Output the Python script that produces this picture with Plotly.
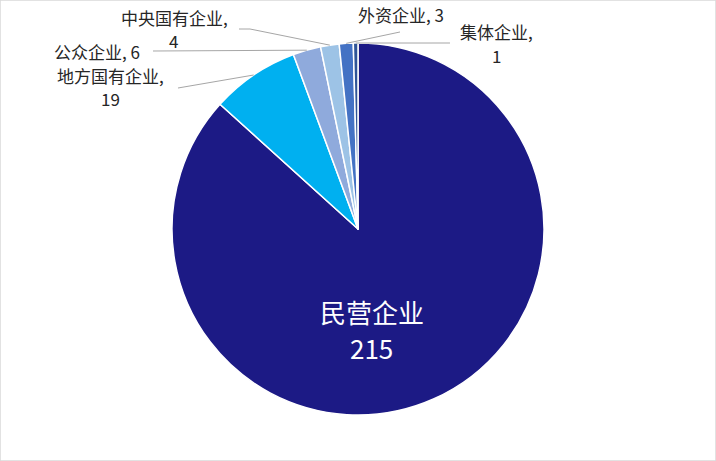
import numpy as np
import plotly.graph_objects as go

# --- data ---
labels = ["民营企业", "地方国有企业", "公众企业", "中央国有企业", "外资企业", "集体企业"]
values = [215, 19, 6, 4, 3, 1]
colors = ["#1c1a85", "#00b0f0", "#8faadc", "#9dc3e6", "#4472c4", "#2f5597"]

W, H = 716, 461
cx, cy, rad = 358, 229, 186   # pie centre / radius in px

# label lines: (x, y, text) in px, plus the points the leader line passes through
label_pos = {
    "地方国有企业": ([(111, 76, "地方国有企业,"), (111, 98, "19")], [(178, 88)]),
    "公众企业": ([(97, 51, "公众企业, 6")], [(153, 51)]),
    "中央国有企业": ([(174, 17, "中央国有企业,"), (173, 40, "4")], [(239, 29), (250, 29)]),
    "外资企业": ([(401, 15, "外资企业, 3")], [(400, 32)]),
    "集体企业": ([(497, 32, "集体企业,"), (497, 56, "1")], [(450, 43)]),
}

font_cjk = "Noto Sans CJK SC, Liberation Sans, sans-serif"


def px2paper(x, y):
    return x / W, 1 - y / H


fig = go.Figure(go.Pie(
    labels=labels,
    values=values,
    marker=dict(colors=colors, line=dict(color="white", width=1.5)),
    sort=False,
    direction="clockwise",
    rotation=0,
    textinfo="none",
    hoverinfo="label+value",
    showlegend=False,
    domain=dict(x=[(cx - rad) / W, (cx + rad) / W],
                y=[1 - (cy + rad) / H, 1 - (cy - rad) / H]),
))

# leader lines from slice mid-angle to the labels
total = sum(values)
cum = 0
shapes = []
annotations = []
for lab, v in zip(labels, values):
    mid = (cum + v / 2) / total * 2 * np.pi
    cum += v
    if lab not in label_pos:
        continue
    lines, pts = label_pos[lab]
    ex, ey = cx + rad * np.sin(mid), cy - rad * np.cos(mid)
    path_pts = pts + [(ex, ey)]
    path = "M " + " L ".join(f"{px2paper(x, y)[0]:.5f},{px2paper(x, y)[1]:.5f}" for x, y in path_pts)
    shapes.append(dict(type="path", path=path, xref="paper", yref="paper",
                       line=dict(color="#a6a6a6", width=1)))
    for lx, ly, txt in lines:
        ax, ay = px2paper(lx, ly)
        annotations.append(dict(x=ax, y=ay, xref="paper", yref="paper", text=txt,
                                showarrow=False, xanchor="center", yanchor="middle",
                                font=dict(family=font_cjk, size=17, color="#262626")))

# big slice label
for ly, txt in [(311, labels[0]), (347, str(values[0]))]:
    bx, by = px2paper(372, ly)
    annotations.append(dict(x=bx, y=by, xref="paper", yref="paper",
                            text=txt, showarrow=False,
                            xanchor="center", yanchor="middle",
                            font=dict(family=font_cjk, size=26, color="white")))

# outer frame
shapes.append(dict(type="rect", xref="paper", yref="paper", x0=0, y0=0, x1=1, y1=1,
                   line=dict(color="#d9d9d9", width=1.5)))

fig.update_layout(
    width=W, height=H,
    margin=dict(l=0, r=0, t=0, b=0),
    paper_bgcolor="white",
    plot_bgcolor="white",
    shapes=shapes,
    annotations=annotations,
)

# page body has a default 8px margin; drop it so the figure fills the window
fig.write_html("out.html", config={"displayModeBar": False},
               post_script="document.body.style.margin='0';")
